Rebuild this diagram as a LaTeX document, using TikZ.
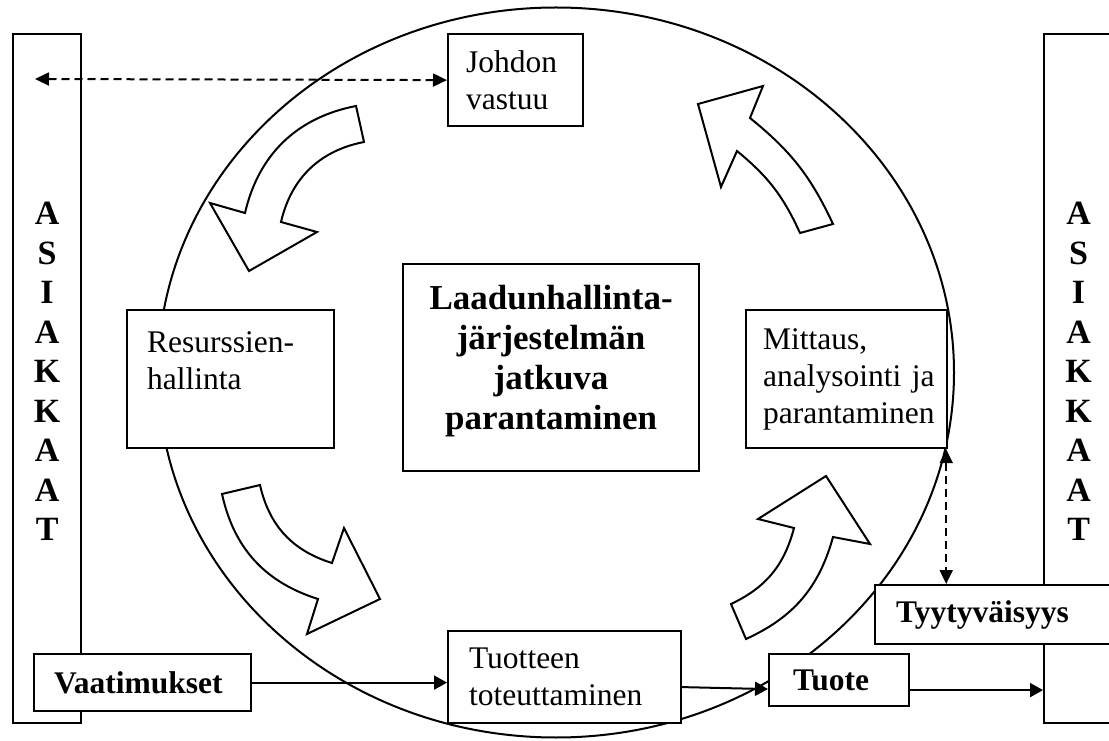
\documentclass[tikz,border=0pt]{standalone}
\usepackage{fontspec}
\setmainfont{Liberation Serif}
\usetikzlibrary{arrows.meta,positioning,calc}

\begin{document}
\begin{tikzpicture}[x=1pt,y=1pt,
  box/.style={draw, fill=white, line width=2.2pt, inner ysep=0pt, align=left,
    font=\fontsize{31.5}{37}\selectfont},
  bar/.style={draw, fill=white, line width=2.2pt, inner sep=0pt, align=center,
    font=\bfseries\fontsize{34}{39.5}\selectfont, minimum width=68pt, minimum height=689pt},
  kaari/.style={draw, fill=white, line width=2pt, line join=miter},
  nuoli/.style={line width=2pt, -{Triangle[length=13pt,width=14pt]}},
  katko/.style={line width=2pt, dash pattern=on 8pt off 5pt,
    {Triangle[length=14pt,width=13pt]}-{Triangle[length=14pt,width=13pt]}}]
  \useasboundingbox (0,0) rectangle (1109,740);
  % ympyra
  \draw[line width=2pt] (556,367.5) ellipse [x radius=398, y radius=365];
  % kaarinuolet
  \draw[kaari] (356,634) to[bend right=33] (245,527) -- (210,537) -- (249,469)
    -- (317,508) -- (281,518) to[bend left=33] (364,598) -- cycle;
  \draw[kaari] (833,516) to[bend right=13] (750,622) -- (763,654) -- (698,636)
    -- (721,553) -- (737,589) to[bend left=13] (800,507) -- cycle;
  \draw[kaari] (222,246) to[bend right=30] (318,141) -- (307,106) -- (380,141)
    -- (344,212) -- (332,177) to[bend left=30] (260,255) -- cycle;
  \draw[kaari] (746,101) to[bend right=25] (833,203) -- (870,196) -- (826,264)
    -- (758,221) -- (794,212) to[bend left=25] (731,136) -- cycle;
  % asiakkaat
  \node[bar, anchor=north west] (lbar) at (12,707)
    {A\\S\\I\\A\\K\\K\\A\\A\\T\\[-25pt]\mbox{}};
  \node[bar, anchor=north west, minimum width=69pt] (rbar) at (1043,707)
    {A\\S\\I\\A\\K\\K\\A\\A\\T\\[-25pt]\mbox{}};
  % laatikot
  \node[box, anchor=north west, inner xsep=18pt, text width=99pt, minimum height=92pt]
    (johdon) at (447,707) {Johdon\\vastuu};
  \node[box, anchor=north west, inner xsep=20pt, text width=167pt, minimum height=138pt]
    (res) at (126,431) {Resurssien-\\hallinta\\\mbox{}};
  \node[box, anchor=north west, inner xsep=10pt, text width=276pt, minimum height=207pt,
    align=center, font=\bfseries\fontsize{35}{40}\selectfont]
    (keski) at (402,477) {Laadunhallinta-\\järjestelmän\\jatkuva\\parantaminen\\[-20pt]\mbox{}};
  \node[box, anchor=north west, inner xsep=17pt, text width=167pt, minimum height=138pt]
    (mitt) at (745,431) {Mittaus,\\\mbox{analysointi ja}\\parantaminen};
  \node[box, anchor=north west, inner xsep=20pt, text width=177pt, minimum height=57pt,
    font=\bfseries\fontsize{31.5}{37}\selectfont]
    (vaat) at (33,87) {Vaatimukset};
  \node[box, anchor=north west, inner xsep=21pt, text width=191pt, minimum height=92pt]
    (tuot) at (447,110) {Tuotteen\\toteuttaminen};
  \node[box, anchor=north west, inner xsep=24pt, text width=92pt, minimum height=52pt,
    font=\bfseries\fontsize{31.5}{37}\selectfont]
    (tuote) at (768,87) {Tuote};
  \node[box, anchor=north west, inner xsep=21pt, text width=196pt, minimum height=59pt,
    font=\bfseries\fontsize{31.5}{37}\selectfont]
    (tyyt) at (874,156) {Tyytyväisyys};
  % nuolet
  \coordinate (vasen) at (35,661);
  \coordinate (mala) at ([xshift=-2pt]mitt.south east);
  \draw[katko] (vasen) -- (johdon.west);
  \draw[katko] (mala) -- (mala |- tyyt.north);
  \draw[nuoli] (vaat.east) -- (vaat.east -| tuot.west);
  \draw[nuoli] ([yshift=-10pt]tuot.east) -- ([yshift=-9pt]tuote.west);
  \draw[nuoli] ([yshift=-10pt]tuote.east) -- ([yshift=-10pt]tuote.east -| rbar.west);
\end{tikzpicture}
\end{document}
